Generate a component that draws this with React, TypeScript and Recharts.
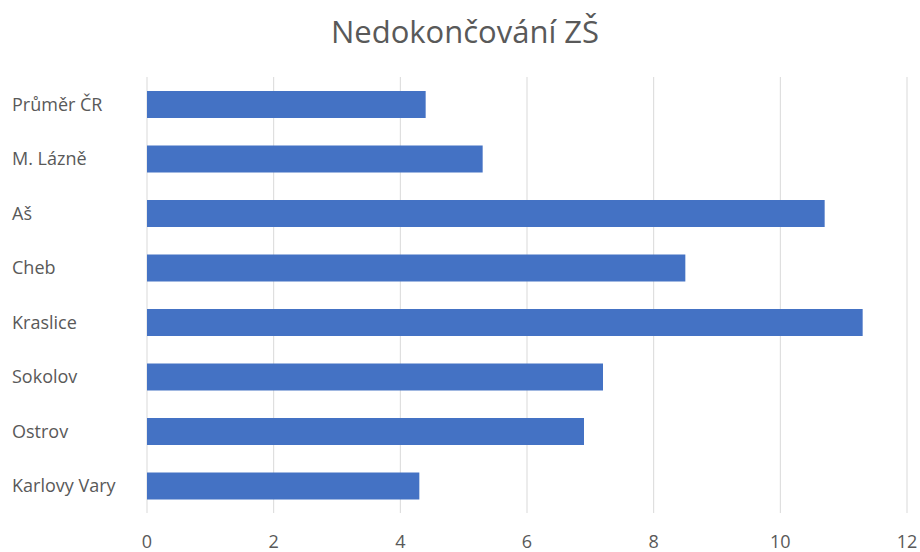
import { Bar, BarChart, CartesianGrid, XAxis, YAxis } from "recharts";

const regiony = [
  "Průměr ČR",
  "M. Lázně",
  "Aš",
  "Cheb",
  "Kraslice",
  "Sokolov",
  "Ostrov",
  "Karlovy Vary",
];
const hodnoty = [4.4, 5.3, 10.7, 8.5, 11.3, 7.2, 6.9, 4.3];
const ticksX = [0, 2, 4, 6, 8, 10, 12];

const data = regiony.map((r, i) => ({ label: r, value: hodnoty[i] }));

const FONT = "'Open Sans', 'Noto Sans', sans-serif";
const TEXT = "#595959";

// popisky vlevo zarovnané k okraji
function LeftTick({ y, payload }: any) {
  return (
    <text x={12} y={y} dy="0.35em" textAnchor="start" fill={TEXT} fontSize={18} fontFamily={FONT}>
      {payload.value}
    </text>
  );
}

export default function App() {
  return (
    <div style={{ position: "fixed", left: 0, top: 0, width: 920, height: 552, background: "#fff" }}>
      <div
        style={{
          position: "absolute",
          top: 10,
          left: 0,
          width: 930,
          textAlign: "center",
          fontFamily: FONT,
          fontSize: 31,
          color: TEXT,
        }}
      >
        Nedokončování ZŠ
      </div>
      <BarChart
        width={920}
        height={552}
        data={data}
        layout="vertical"
        margin={{ top: 77, right: 13, bottom: 0, left: 0 }}
        barSize={27}
      >
        <CartesianGrid stroke="#d9d9d9" horizontal={false} />
        <XAxis
          type="number"
          domain={[0, 12]}
          ticks={ticksX}
          axisLine={false}
          tickLine={false}
          tickMargin={16}
          height={39}
          tick={{ fill: TEXT, fontSize: 18, fontFamily: FONT }}
        />
        <YAxis
          type="category"
          dataKey="label"
          width={147}
          axisLine={false}
          tickLine={false}
          interval={0}
          tick={<LeftTick />}
        />
        <Bar dataKey="value" fill="#4472C4" isAnimationActive={false} />
      </BarChart>
    </div>
  );
}
